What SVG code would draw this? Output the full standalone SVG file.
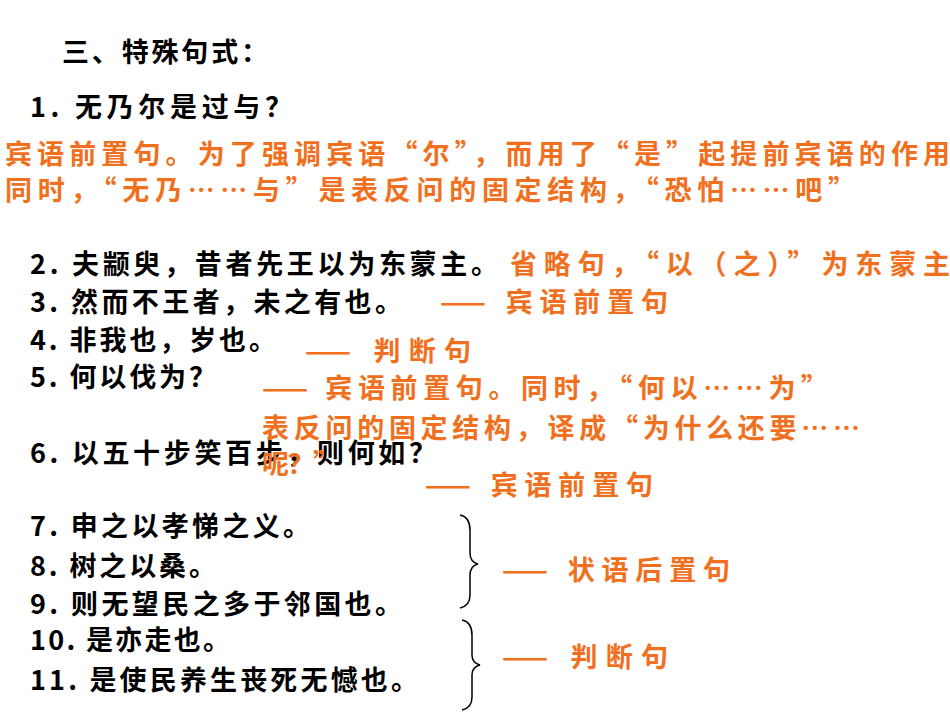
<svg xmlns="http://www.w3.org/2000/svg" width="950" height="713" viewBox="0 0 950 713">
<style>
text{font-family:"Noto Sans CJK SC","Liberation Sans",sans-serif;font-weight:bold}
.k{fill:#000;font-size:27px}
.o{fill:#F07020;font-size:27px}
.b{fill:none;stroke:#000;stroke-width:1.5}
</style>
<rect width="950" height="713" fill="#fff"/>
<g id="title"><text class="k" x="62" y="62" textLength="206" lengthAdjust="spacing">三、特殊句式：</text></g>
<g id="items">
<text class="k" x="30" y="117" textLength="262" lengthAdjust="spacing">1. 无乃尔是过与？</text>
<text class="k" x="30" y="274" textLength="468" lengthAdjust="spacing">2. 夫颛臾，昔者先王以为东蒙主。</text>
<text class="k" x="30" y="312" textLength="372" lengthAdjust="spacing">3. 然而不王者，未之有也。</text>
<text class="k" x="30" y="350" textLength="246" lengthAdjust="spacing">4. 非我也，岁也。</text>
<text class="k" x="30" y="387" textLength="186" lengthAdjust="spacing">5. 何以伐为？</text>
<text class="k" x="30" y="463" textLength="406" lengthAdjust="spacing">6. 以五十步笑百步，则何如？</text>
<text class="k" x="30" y="536" textLength="280" lengthAdjust="spacing">7. 申之以孝悌之义。</text>
<text class="k" x="30" y="576" textLength="186" lengthAdjust="spacing">8. 树之以桑。</text>
<text class="k" x="30" y="614" textLength="372" lengthAdjust="spacing">9. 则无望民之多于邻国也。</text>
<text class="k" x="30" y="650" textLength="200" lengthAdjust="spacing">10. 是亦走也。</text>
<text class="k" x="30" y="690" textLength="388" lengthAdjust="spacing">11. 是使民养生丧死无憾也。</text>
</g>
<g id="notes">
<text class="o" x="5" y="164" textLength="945" lengthAdjust="spacing">宾语前置句。为了强调宾语“尔”，而用了“是”起提前宾语的作用</text>
<text class="o" x="5" y="200" textLength="850" lengthAdjust="spacing">同时，“无乃……与”是表反问的固定结构，“恐怕……吧”</text>
<text class="o" x="510" y="274" textLength="440" lengthAdjust="spacing">省略句，“以（之）”为东蒙主</text>
<text class="o" x="440" y="312" textLength="228" lengthAdjust="spacing">—— 宾语前置句</text>
<text class="o" x="305" y="361" textLength="166" lengthAdjust="spacing">—— 判断句</text>
<text class="o" x="262" y="398" textLength="566" lengthAdjust="spacing">—— 宾语前置句。同时，“何以……为”</text>
<text class="o" x="262" y="438" textLength="598" lengthAdjust="spacing">表反问的固定结构，译成“为什么还要……</text>
<text class="o" x="262" y="474" textLength="78" lengthAdjust="spacing">呢？”</text>
<text class="o" x="425" y="495" textLength="228" lengthAdjust="spacing">—— 宾语前置句</text>
<text class="o" x="502" y="580" textLength="228" lengthAdjust="spacing">—— 状语后置句</text>
<text class="o" x="502" y="667" textLength="166" lengthAdjust="spacing">—— 判断句</text>
</g>
<g id="connectors">
<path class="b" d="M460,515 Q470,517 470,530 L470,553 Q470,562 478,564 Q470,566 470,575 L470,595 Q470,606 460,608"/>
<path class="b" d="M462,620 Q472,622 472,635 L472,655 Q472,663 480,665 Q472,667 472,675 L472,697 Q472,708 462,710"/>
</g>
</svg>
